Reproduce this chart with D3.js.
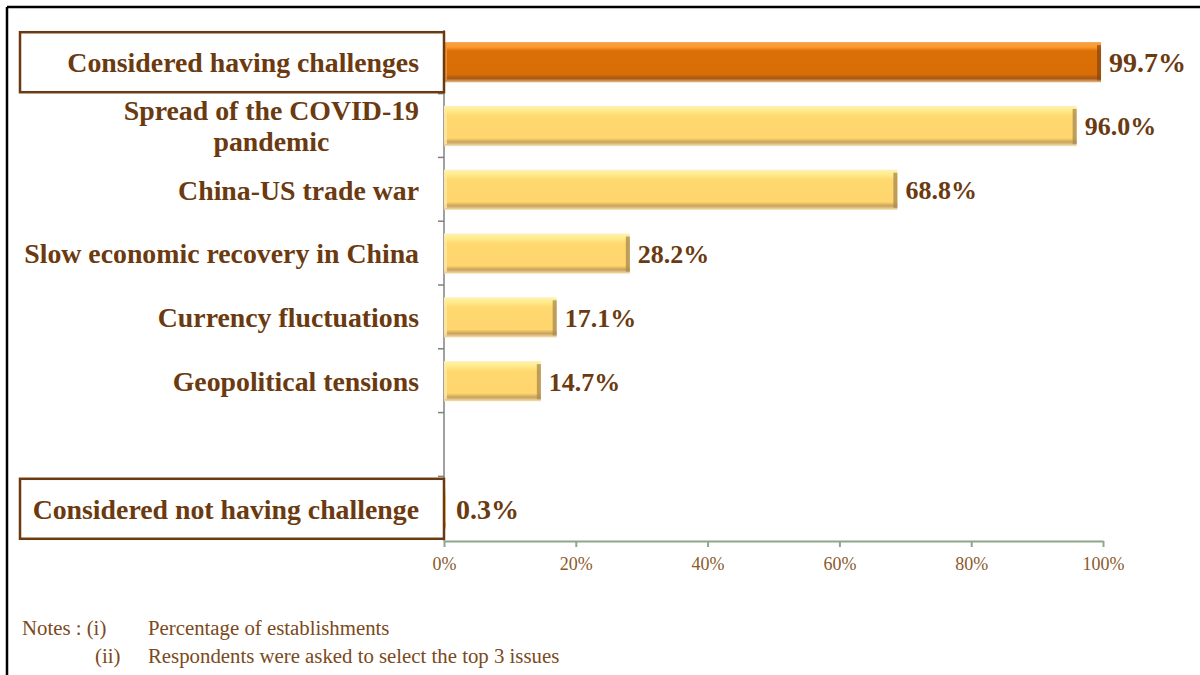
<!DOCTYPE html>
<html>
<head>
<meta charset="utf-8">
<script src="https://cdn.jsdelivr.net/npm/d3@7"></script>
<style>
  body { margin: 0; background: #fff; }
  svg text { font-family: "Liberation Serif", "Times New Roman", serif; }
</style>
</head>
<body>
<div id="chart-area"></div>
<script>
// categories (top to bottom), "gap" is the empty slot in the original chart
let categories = ["Considered having challenges", "Spread of the COVID-19|pandemic",
    "China-US trade war", "Slow economic recovery in China", "Currency fluctuations",
    "Geopolitical tensions", "gap", "Considered not having challenge"];
let values = [99.7, 96.0, 68.8, 28.2, 17.1, 14.7, null, 0.3];
let boxed = ["Considered having challenges", "Considered not having challenge"];
let highlight = ["Considered having challenges"];
let xTicks = [0, 20, 40, 60, 80, 100];
let notes = [["Notes :  (i)", "Percentage of establishments"],
             ["(ii)", "Respondents were asked to select the top 3 issues"]];

let W = 1200, H = 675;
let margin = { left: 444, right: 97, top: 30, bottom: 134 };
let width = W - margin.left - margin.right,
    height = H - margin.top - margin.bottom;

let svg = d3.select("#chart-area").append("svg")
    .attr("width", W).attr("height", H);

// frame lines (left and top)
svg.append("line").attr("x1", 7).attr("x2", 7).attr("y1", 7).attr("y2", H)
    .attr("stroke", "#000").attr("stroke-width", 2.5);
svg.append("line").attr("x1", 7).attr("x2", W).attr("y1", 7).attr("y2", 7)
    .attr("stroke", "#000").attr("stroke-width", 2.5);

let defs = svg.append("defs");
function grad(id, stops) {
    let gr = defs.append("linearGradient").attr("id", id)
        .attr("x1", 0).attr("y1", 0).attr("x2", 0).attr("y2", 1);
    stops.forEach(s => gr.append("stop").attr("offset", s[0]).attr("stop-color", s[1]));
}
grad("orange", [[0, "#f4a048"], [0.12, "#ff9a2e"], [0.22, "#da6f06"], [0.8, "#d86e05"], [0.9, "#a75612"], [1, "#e7b98a"]]);
grad("yellow", [[0, "#fff0b8"], [0.12, "#ffec8a"], [0.25, "#ffd870"], [0.8, "#ffd56e"], [0.9, "#c9a25a"], [1, "#f6e2b6"]]);

let g = svg.append("g").attr("transform", "translate(" + margin.left + "," + margin.top + ")");

let x = d3.scaleLinear().domain([0, 100]).range([0, width]);
let y = d3.scaleBand().domain(categories).range([0, height]).paddingInner(0.37).paddingOuter(0.19);
let step = y.step();

// y axis line with ticks between bands
g.append("line").attr("x1", 0).attr("x2", 0).attr("y1", 0).attr("y2", height)
    .attr("stroke", "#808080").attr("stroke-width", 1.5);
g.selectAll(".ytick").data(categories.slice(1))
    .enter().append("line")
    .attr("class", "ytick")
    .attr("x1", -6).attr("x2", 0)
    .attr("y1", d => y(d) - y.paddingInner() * step / 2 - 0.5)
    .attr("y2", d => y(d) - y.paddingInner() * step / 2 - 0.5)
    .attr("stroke", "#808080").attr("stroke-width", 1.5);

// x axis
let xAxis = g.append("g")
    .attr("transform", "translate(0," + height + ")")
    .call(d3.axisBottom(x).tickValues(xTicks).tickSize(6).tickSizeOuter(0)
        .tickFormat(d => d + "%"));
xAxis.select(".domain").attr("stroke", "#8aa88a").attr("stroke-width", 2);
xAxis.selectAll(".tick line").attr("stroke", "#8aa88a").attr("stroke-width", 2);
xAxis.selectAll(".tick text")
    .attr("fill", "#8b5a2b").attr("font-size", "18px").attr("dy", "1.1em")
    .style("font-family", "'Liberation Serif', serif");

// bars
let data = categories.map((c, i) => ({ cat: c, val: values[i] })).filter(d => d.val !== null);
let bars = g.selectAll(".bar").data(data).enter().append("g").attr("class", "bar");
bars.append("rect")
    .attr("x", 0).attr("y", d => y(d.cat))
    .attr("width", d => x(d.val)).attr("height", y.bandwidth())
    .attr("fill", d => highlight.includes(d.cat) ? "url(#orange)" : "url(#yellow)");
// right bevel edge
bars.filter(d => d.val > 1).append("rect")
    .attr("x", d => x(d.val) - 4).attr("y", d => y(d.cat) + 3)
    .attr("width", 4).attr("height", y.bandwidth() - 5)
    .attr("fill", d => highlight.includes(d.cat) ? "#8a4a10" : "#a88a50")
    .attr("opacity", 0.75);
// left bevel edge
bars.filter(d => d.val > 1).append("rect")
    .attr("x", 0).attr("y", d => y(d.cat) + 3)
    .attr("width", 3).attr("height", y.bandwidth() - 5)
    .attr("fill", d => highlight.includes(d.cat) ? "#f09a40" : "#ffe9a8")
    .attr("opacity", 0.8);

// value labels
bars.append("text")
    .attr("x", d => d.val < 5 ? 12 : x(d.val) + 8)
    .attr("y", d => y(d.cat) + y.bandwidth() / 2)
    .attr("dy", "0.36em")
    .attr("font-weight", "bold")
    .attr("font-size", d => highlight.includes(d.cat) || d.val < 5 ? "28px" : "26px")
    .attr("fill", "#6b3a10")
    .text(d => d.val.toFixed(1) + "%");

// boxes around the two summary labels
g.selectAll(".lbox").data(boxed).enter().append("rect")
    .attr("class", "lbox")
    .attr("x", -424).attr("width", 424)
    .attr("y", d => y(d) + y.bandwidth() / 2 - 30).attr("height", 60)
    .attr("fill", "none").attr("stroke", "#6b3a10").attr("stroke-width", 2.5);

// category labels
let labels = g.selectAll(".ylab").data(categories.filter(c => c !== "gap"))
    .enter().append("text")
    .attr("class", "ylab")
    .attr("font-weight", "bold")
    .attr("font-size", "27.8px")
    .attr("fill", "#6b3a10");
labels.each(function(d) {
    let parts = d.split("|");
    let cy = y(d) + y.bandwidth() / 2;
    let t = d3.select(this);
    // first line is right aligned, further lines centred under it
    let first = t.append("tspan")
        .attr("text-anchor", "end")
        .attr("x", -25)
        .attr("y", cy - (parts.length - 1) / 2 * 31)
        .attr("dy", "0.35em")
        .text(parts[0]);
    let w = first.node().getComputedTextLength();
    parts.slice(1).forEach((p, i) => {
        t.append("tspan")
            .attr("text-anchor", "middle")
            .attr("x", -25 - w / 2)
            .attr("y", cy + (i + 1 - (parts.length - 1) / 2) * 31)
            .attr("dy", "0.35em")
            .text(p);
    });
});

// notes
let notesG = svg.append("g").attr("fill", "#7b4a20").attr("font-size", "20.8px");
notesG.append("text").attr("x", 22).attr("y", 635).text(notes[0][0]);
notesG.append("text").attr("x", 148).attr("y", 635).text(notes[0][1]);
notesG.append("text").attr("x", 95).attr("y", 663).text(notes[1][0]);
notesG.append("text").attr("x", 148).attr("y", 663).text(notes[1][1]);
</script>
</body>
</html>
